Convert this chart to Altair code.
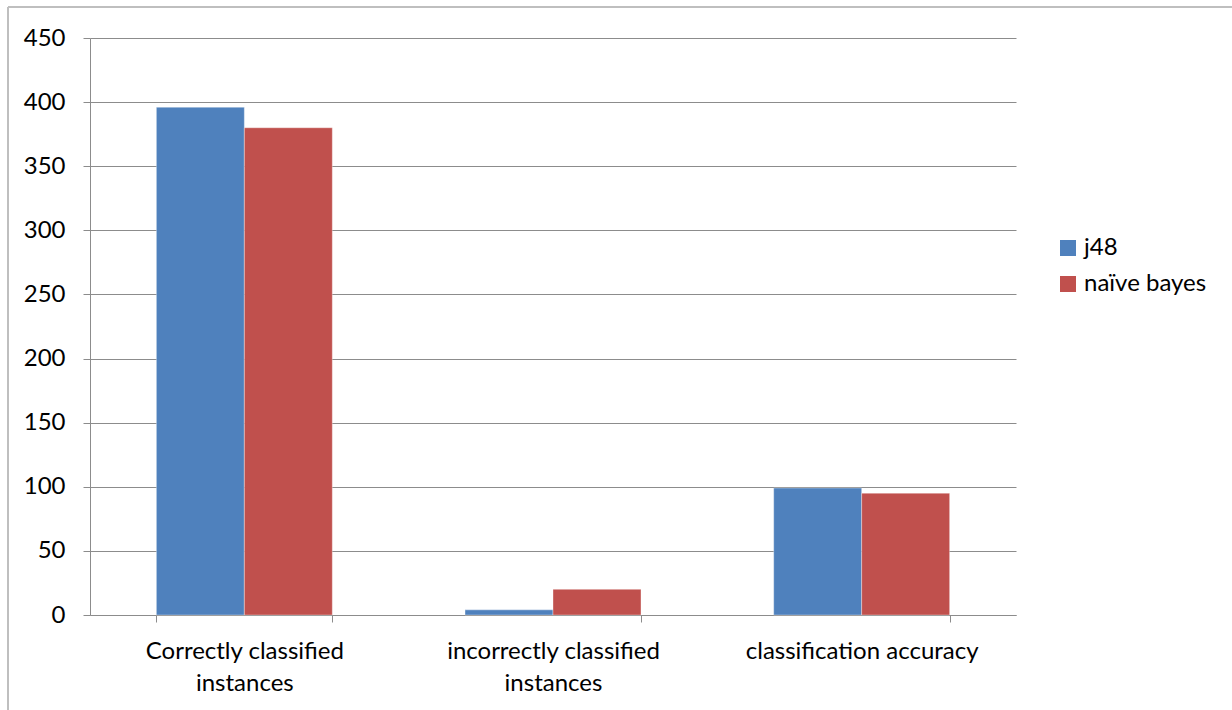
import altair as alt
import pandas as pd

categories = ["Correctly classified instances", "incorrectly classified instances", "classification accuracy"]
series = ["j48", "naïve bayes"]
j48_values = [396, 4, 99]
nb_values = [380, 20, 95]
colors = ["#4F81BD", "#C0504D"]

rows = []
for c, a, b in zip(categories, j48_values, nb_values):
    rows.append({"category": c, "series": series[0], "value": a})
    rows.append({"category": c, "series": series[1], "value": b})
df = pd.DataFrame(rows)

FONT = "Lato"
GRAY = "#8c8c8c"
FS = 24

bars = alt.Chart(df).mark_bar(stroke="#ffffff", strokeOpacity=0.35, strokeWidth=1).encode(
    x=alt.X("category:N", sort=categories,
            scale=alt.Scale(paddingInner=0.43, paddingOuter=0.215),
            axis=alt.Axis(title=None, labelAngle=0, tickBand="extent", tickSize=7,
                          tickColor=GRAY, domainColor=GRAY, labelFont=FONT, labelFontSize=FS,
                          labelColor="#000000", labelLineHeight=32, labelPadding=17, labelLimit=0,
                          labelExpr="split(replace(datum.label, ' instances', '|instances'), '|')")),
    xOffset=alt.XOffset("series:N", sort=series),
    y=alt.Y("value:Q", scale=alt.Scale(domain=[0, 450], nice=False),
            axis=alt.Axis(title=None, values=list(range(0, 451, 50)), tickSize=7,
                          tickColor=GRAY, domainColor=GRAY, gridColor=GRAY,
                          labelFont=FONT, labelFontSize=FS, labelColor="#000000",
                          labelPadding=18)),
    color=alt.Color("series:N", sort=series,
                    scale=alt.Scale(domain=series, range=colors),
                    legend=alt.Legend(title=None, orient="none", legendX=966, legendY=198,
                                      symbolType="square", symbolSize=256, symbolStrokeWidth=0,
                                      labelFont=FONT, labelFontSize=FS, labelColor="#000000",
                                      rowPadding=12, labelOffset=4, labelLimit=0)),
)

one = pd.DataFrame({"a": [0]})
frame_left = alt.Chart(one).mark_rule(stroke="#bfbfbf", strokeWidth=2).encode(
    x=alt.value(-82), y=alt.value(-31), y2=alt.value(700)
)
frame_top = alt.Chart(one).mark_rule(stroke="#bfbfbf", strokeWidth=2).encode(
    x=alt.value(-82), x2=alt.value(1160), y=alt.value(-31)
)

chart = alt.layer(frame_left, frame_top, bars).properties(
    width=926, height=577,
    autosize=alt.AutoSizeParams(type="none"),
    padding={"left": 90, "top": 38, "right": 216, "bottom": 95},
    background="#ffffff",
).configure_view(stroke=None)

chart.save("out.html", embed_options={"renderer": "svg", "actions": False})
